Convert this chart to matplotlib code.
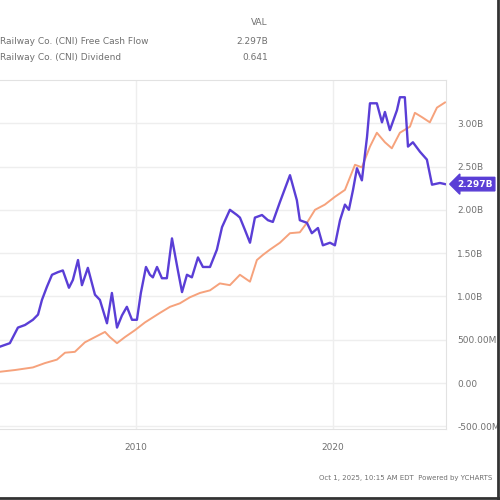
import numpy as np
import matplotlib.pyplot as plt

# free cash flow (TTM, billions)
fcf_years = [2003.10, 2003.60, 2004.01, 2004.37, 2004.77, 2005.03, 2005.23, 2005.48, 2005.74,
             2006.04, 2006.29, 2006.60, 2006.80, 2007.06, 2007.26, 2007.56, 2007.92, 2008.17,
             2008.53, 2008.78, 2009.04, 2009.29, 2009.54, 2009.80, 2010.05, 2010.25, 2010.51,
             2010.71, 2010.86, 2011.07, 2011.32, 2011.57, 2011.83, 2012.13, 2012.34, 2012.59,
             2012.84, 2013.15, 2013.40, 2013.76, 2014.11, 2014.37, 2014.77, 2015.13, 2015.28,
             2015.53, 2015.79, 2016.04, 2016.40, 2016.70, 2016.95, 2017.31, 2017.82, 2018.17,
             2018.32, 2018.68, 2018.93, 2019.24, 2019.49, 2019.85, 2020.10, 2020.36, 2020.61,
             2020.81, 2021.02, 2021.22, 2021.47, 2021.73, 2021.88, 2022.23, 2022.49, 2022.64,
             2022.89, 2023.25, 2023.40, 2023.65, 2023.81, 2024.06, 2024.42, 2024.77, 2025.03,
             2025.43, 2025.69]
fcf_vals = [0.42, 0.46, 0.64, 0.67, 0.73, 0.79, 0.96, 1.11, 1.25,
            1.28, 1.30, 1.10, 1.19, 1.42, 1.13, 1.33, 1.02, 0.96,
            0.69, 1.04, 0.64, 0.78, 0.88, 0.73, 0.73, 1.04, 1.34,
            1.25, 1.22, 1.34, 1.21, 1.21, 1.67, 1.30, 1.05, 1.25,
            1.22, 1.45, 1.34, 1.34, 1.54, 1.80, 2.00, 1.94, 1.91,
            1.77, 1.62, 1.91, 1.94, 1.88, 1.86, 2.09, 2.40, 2.11,
            1.88, 1.85, 1.73, 1.79, 1.59, 1.62, 1.59, 1.88, 2.06,
            2.00, 2.23, 2.48, 2.34, 2.84, 3.23, 3.23, 3.01, 3.13,
            2.92, 3.15, 3.30, 3.30, 2.73, 2.78, 2.67, 2.58, 2.29,
            2.31, 2.297]

# dividend line (its own axis is cropped away), in right-axis units
div_years = [2003.10, 2003.86, 2004.77, 2005.38, 2005.99, 2006.40, 2006.90, 2007.41, 2007.92,
             2008.43, 2008.68, 2009.04, 2009.44, 2009.95, 2010.46, 2011.22, 2011.73, 2012.23,
             2012.74, 2013.25, 2013.76, 2014.26, 2014.77, 2015.28, 2015.79, 2016.14, 2016.45,
             2016.80, 2017.31, 2017.82, 2018.32, 2018.68, 2019.09, 2019.59, 2020.10, 2020.61,
             2021.12, 2021.47, 2021.88, 2022.23, 2022.64, 2022.99, 2023.40, 2023.91, 2024.16,
             2024.52, 2024.92, 2025.28, 2025.69]
div_vals = [0.13, 0.15, 0.18, 0.23, 0.27, 0.35, 0.36, 0.47, 0.53,
            0.59, 0.53, 0.46, 0.53, 0.61, 0.70, 0.81, 0.88, 0.92,
            0.99, 1.04, 1.07, 1.15, 1.13, 1.25, 1.17, 1.42, 1.48,
            1.54, 1.62, 1.73, 1.74, 1.85, 2.00, 2.06, 2.15, 2.23,
            2.52, 2.49, 2.73, 2.89, 2.78, 2.71, 2.89, 2.96, 3.12,
            3.07, 3.01, 3.18, 3.24]

y_ticks = [-0.5, 0.0, 0.5, 1.0, 1.5, 2.0, 2.5, 3.0]
y_labels = ['-500.00M', '0.00', '500.00M', '1.00B', '1.50B', '2.00B', '2.50B', '3.00B']
x_ticks = [2010, 2020]

purple = '#5a3ed6'
orange = '#f6a27c'
grey = '#707070'

fig = plt.figure(figsize=(5, 5), dpi=100)
ax = fig.add_axes([0.0, 0.142, 0.892, 0.698])

ax.plot(div_years, div_vals, color=orange, lw=1.4)
ax.plot(fcf_years, fcf_vals, color=purple, lw=1.7)

ax.set_xlim(2003.1, 2025.74)
ax.set_ylim(-0.531, 3.499)
ax.set_yticks(y_ticks)
ax.set_yticklabels(y_labels)
ax.set_xticks(x_ticks)
ax.yaxis.tick_right()
ax.tick_params(axis='both', length=0, labelsize=6.5, labelcolor=grey)
ax.tick_params(axis='y', pad=8)
ax.tick_params(axis='x', pad=10)
ax.grid(True, color='#eeeeee', lw=1)
for s in ax.spines.values():
    s.set_color('#e2e2e2')
    s.set_linewidth(0.8)
ax.spines['left'].set_visible(False)

# end-of-line value tag
ax.annotate('2.297B', xy=(1.0, (2.297 + 0.531) / 4.03), xycoords='axes fraction',
            xytext=(8, 0), textcoords='offset points', va='center', ha='left',
            fontsize=6.5, color='white', fontweight='bold',
            bbox=dict(boxstyle='larrow,pad=0.25', fc=purple, ec=purple))

# legend table on top
fig.text(0.536, 0.955, 'VAL', fontsize=6.5, color=grey, ha='right', va='center')
fig.text(0.0, 0.918, 'Railway Co. (CNI) Free Cash Flow', fontsize=6.5, color=grey, va='center')
fig.text(0.536, 0.918, '2.297B', fontsize=6.5, color=grey, ha='right', va='center')
fig.text(0.0, 0.884, 'Railway Co. (CNI) Dividend', fontsize=6.5, color=grey, va='center')
fig.text(0.536, 0.884, '0.641', fontsize=6.5, color=grey, ha='right', va='center')

fig.text(0.984, 0.044, 'Oct 1, 2025, 10:15 AM EDT  Powered by YCHARTS', fontsize=5,
         color=grey, ha='right', va='center')

# frame of the screenshot
fig.add_artist(plt.Line2D([0.995, 0.995], [0.0, 1.0], color='#333333', lw=2))
fig.add_artist(plt.Line2D([0.0, 1.0], [0.004, 0.004], color='#333333', lw=2))

fig.savefig('out.png', dpi=100)
